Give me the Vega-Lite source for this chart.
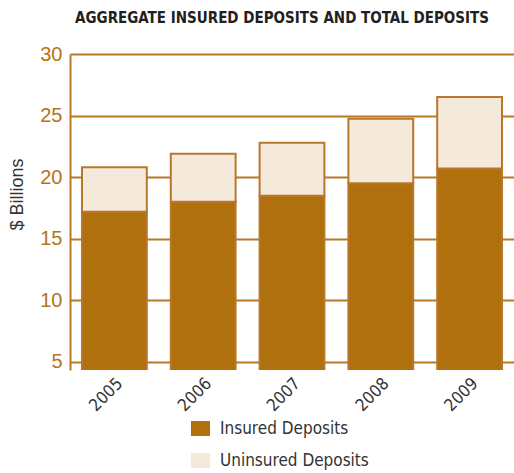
{
  "$schema": "https://vega.github.io/schema/vega-lite/v6.json",
  "width": 444,
  "height": 316,
  "autosize": "none",
  "padding": {"left": 70, "top": 54, "right": 0, "bottom": 103},
  "background": "white",
  "title": {
    "text": "AGGREGATE INSURED DEPOSITS AND TOTAL DEPOSITS",
    "font": "DejaVu Sans Condensed, sans-serif",
    "fontSize": 15,
    "fontWeight": "bold",
    "color": "#231F20",
    "anchor": "middle",
    "dx": -10,
    "offset": 18
  },
  "data": {
    "values": [
      {"year": "2005", "type": "Insured Deposits", "value": 17.2},
      {"year": "2005", "type": "Uninsured Deposits", "value": 3.6},
      {"year": "2006", "type": "Insured Deposits", "value": 18.0},
      {"year": "2006", "type": "Uninsured Deposits", "value": 3.9},
      {"year": "2007", "type": "Insured Deposits", "value": 18.5},
      {"year": "2007", "type": "Uninsured Deposits", "value": 4.3},
      {"year": "2008", "type": "Insured Deposits", "value": 19.5},
      {"year": "2008", "type": "Uninsured Deposits", "value": 5.25},
      {"year": "2009", "type": "Insured Deposits", "value": 20.7},
      {"year": "2009", "type": "Uninsured Deposits", "value": 5.8}
    ]
  },
  "mark": {"type": "bar", "clip": true, "stroke": "#B8782A", "strokeWidth": 2},
  "encoding": {
    "x": {
      "field": "year",
      "type": "nominal",
      "scale": {"paddingInner": 0.27, "paddingOuter": 0.135},
      "axis": {
        "title": null,
        "labelAngle": -45,
        "labelFont": "DejaVu Sans Condensed, sans-serif",
        "labelFontSize": 17,
        "labelColor": "#333333",
        "domain": false,
        "ticks": false,
        "labelPadding": 5
      }
    },
    "y": {
      "field": "value",
      "type": "quantitative",
      "stack": "zero",
      "scale": {"domain": [4.35, 30], "nice": false, "zero": false},
      "axis": {
        "title": "$ Billions",
        "titleFont": "Liberation Sans, Arial, sans-serif",
        "titleFontSize": 18,
        "titleFontWeight": "normal",
        "titleColor": "#333333",
        "titleAngle": -90,
        "titleX": -48,
        "titleY": 140,
        "titleAlign": "center",
        "titleBaseline": "alphabetic",
        "values": [5, 10, 15, 20, 25, 30],
        "labelFont": "Liberation Sans, Arial, sans-serif",
        "labelFontSize": 20,
        "labelColor": "#B5731A",
        "labelPadding": 8,
        "ticks": false,
        "domain": true,
        "domainColor": "#B8782A",
        "domainWidth": 2,
        "grid": true,
        "gridColor": "#B8782A",
        "gridWidth": 2,
        "gridOpacity": 1
      }
    },
    "color": {
      "field": "type",
      "type": "nominal",
      "scale": {
        "domain": ["Insured Deposits", "Uninsured Deposits"],
        "range": ["#B0700E", "#F5E9DC"]
      },
      "legend": {
        "title": null,
        "orient": "none",
        "legendX": 121,
        "legendY": 365,
        "direction": "vertical",
        "symbolType": "M-1,-0.79H1V0.79H-1Z",
        "symbolSize": 361,
        "symbolStrokeWidth": 0,
        "rowPadding": 14,
        "labelOffset": 10,
        "labelFont": "DejaVu Sans Condensed, sans-serif",
        "labelFontSize": 17,
        "labelColor": "#333333",
        "encode": {
          "symbols": {
            "update": {
              "fill": {"signal": "datum.value === 'Insured Deposits' ? '#A0500F' : '#E8D0B8'"},
              "stroke": {"value": "transparent"},
              "opacity": {"value": 1}
            }
          }
        }
      }
    },
    "order": {"field": "type", "sort": "ascending"}
  },
  "config": {
    "view": {"stroke": null}
  }
}
